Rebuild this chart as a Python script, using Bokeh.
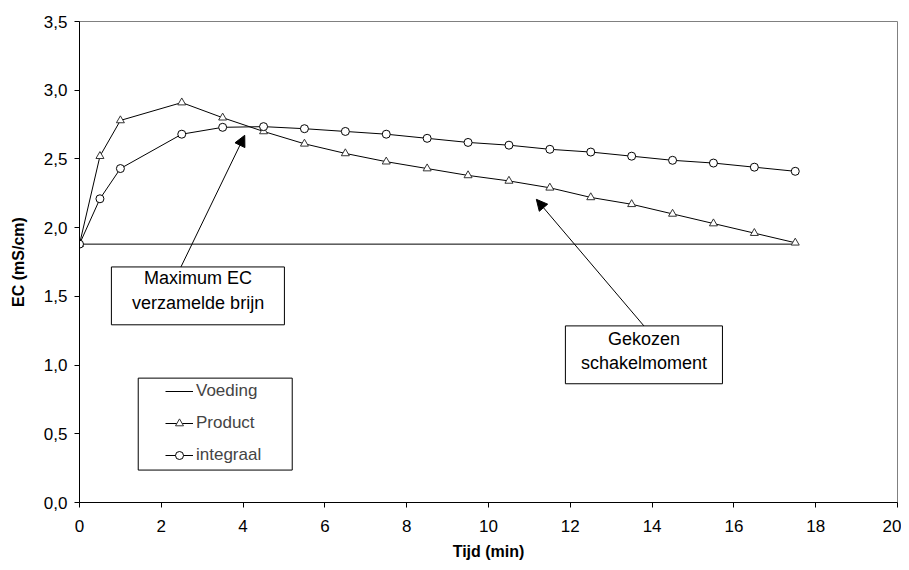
from bokeh.plotting import figure
from bokeh.models import (Range1d, FixedTicker, CustomJSTickFormatter, BoxAnnotation,
                          Arrow, NormalHead, Legend, LegendItem, Label)
from bokeh.embed import file_html
from bokeh.resources import INLINE

# ---- data ----
tijd = [0, 0.5, 1, 2.5, 3.5, 4.5, 5.5, 6.5, 7.5, 8.5, 9.5, 10.5, 11.5, 12.5, 13.5, 14.5, 15.5, 16.5, 17.5]
product = [1.88, 2.52, 2.78, 2.91, 2.80, 2.70, 2.61, 2.54, 2.48, 2.43, 2.38, 2.34, 2.29, 2.22, 2.17, 2.10, 2.03, 1.96, 1.89]
integraal = [1.88, 2.21, 2.43, 2.68, 2.73, 2.735, 2.72, 2.70, 2.68, 2.65, 2.62, 2.60, 2.57, 2.55, 2.52, 2.49, 2.47, 2.44, 2.41]
voeding_x = [0, 17.5]
voeding = [1.88, 1.88]
x_ticks = [0, 2, 4, 6, 8, 10, 12, 14, 16, 18, 20]
y_ticks = [0, 0.5, 1.0, 1.5, 2.0, 2.5, 3.0, 3.5]

FONT = "Liberation Sans"

p = figure(width=901, height=562, output_backend="svg", toolbar_location=None,
           x_range=Range1d(0, 20), y_range=Range1d(0, 3.5),
           min_border_left=79, min_border_right=4, min_border_top=21, min_border_bottom=59)
p.xgrid.visible = False
p.ygrid.visible = False
p.outline_line_color = "#808080"
p.outline_line_width = 1

for ax in (p.xaxis[0], p.yaxis[0]):
    ax.axis_line_color = "black"
    ax.major_tick_line_color = "black"
    ax.major_tick_out = 5
    ax.major_tick_in = 0
    ax.minor_tick_line_color = None
    ax.major_label_text_font = FONT
    ax.major_label_text_font_size = "17px"
    ax.major_label_text_color = "black"
    ax.axis_label_text_font = FONT
    ax.axis_label_text_font_size = "16px"
    ax.axis_label_text_font_style = "bold"
    ax.axis_label_text_color = "black"

p.xaxis.ticker = FixedTicker(ticks=x_ticks)
p.yaxis.ticker = FixedTicker(ticks=y_ticks)
p.yaxis.formatter = CustomJSTickFormatter(code="return tick.toFixed(1).replace('.', ',');")
p.xaxis.axis_label = "Tijd (min)"
p.yaxis.axis_label = "EC (mS/cm)"
p.xaxis.major_label_standoff = 12
p.yaxis.major_label_standoff = 7
p.xaxis.axis_label_standoff = 8
p.yaxis.axis_label_standoff = 14

# ---- series ----
r_v = p.line(voeding_x, voeding, line_color="black", line_width=1)
r_pl = p.line(tijd, product, line_color="black", line_width=1)
r_ps = p.scatter(tijd, product, marker="triangle", size=8, fill_color="white",
                 line_color="#333333", line_width=1)
r_il = p.line(tijd, integraal, line_color="black", line_width=1)
r_is = p.scatter(tijd, integraal, marker="circle", size=8, fill_color="white",
                 line_color="black", line_width=1)

# ---- annotation boxes ----
def box(l, r, b, t):
    p.add_layout(BoxAnnotation(left=l, right=r, bottom=b, top=t,
                               fill_color="white", fill_alpha=1,
                               line_color="black", line_alpha=1, line_width=1))

box(0.78, 5.01, 1.293, 1.714)
box(11.88, 15.72, 0.864, 1.285)
# legend frame
box(1.436, 5.201, 0.236, 0.905)

def lab(x, y, t):
    p.add_layout(Label(x=x, y=y, text=t, text_align="center", text_baseline="middle",
                       text_font=FONT, text_font_size="18px", text_color="black"))

lab(2.90, 1.632, "Maximum EC")
lab(2.90, 1.450, "verzamelde brijn")
lab(13.80, 1.191, "Gekozen")
lab(13.80, 1.014, "schakelmoment")

p.add_layout(Arrow(end=NormalHead(size=11, fill_color="black", line_color="black"),
                   x_start=2.48, y_start=1.714, x_end=4.04, y_end=2.672,
                   line_color="black", line_width=1))
p.add_layout(Arrow(end=NormalHead(size=11, fill_color="black", line_color="black"),
                   x_start=13.80, y_start=1.285, x_end=11.17, y_end=2.206,
                   line_color="black", line_width=1))

legend = Legend(items=[LegendItem(label="Voeding", renderers=[r_v]),
                       LegendItem(label="Product", renderers=[r_pl, r_ps]),
                       LegendItem(label="integraal", renderers=[r_il, r_is])],
                location=(86, 37), padding=0, margin=0, spacing=12,
                glyph_width=28, glyph_height=20, label_height=20, label_standoff=3,
                label_text_font=FONT, label_text_font_size="17px",
                border_line_alpha=0, background_fill_alpha=0)
p.add_layout(legend)

open("out.html", "w").write(file_html(p, INLINE))
